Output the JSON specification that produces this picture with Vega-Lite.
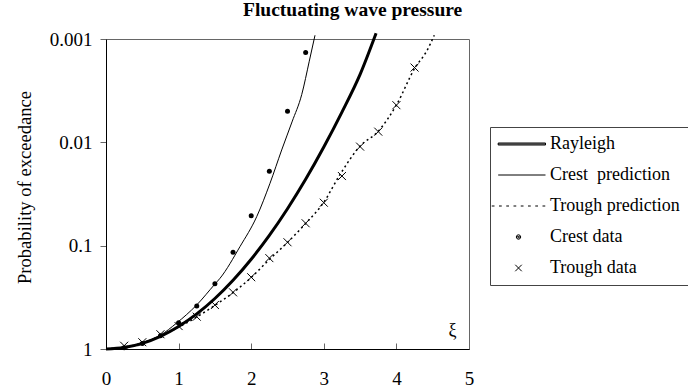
{
  "$schema": "https://vega.github.io/schema/vega-lite/v6.json",
  "width": 363,
  "height": 310,
  "autosize": {"type": "none"},
  "padding": {"left": 106, "top": 39, "right": 219, "bottom": 43},
  "background": "white",
  "title": {
    "text": "Fluctuating wave pressure",
    "anchor": "start",
    "frame": "group",
    "dx": 137,
    "offset": -8,
    "baseline": "alphabetic",
    "font": "Liberation Serif",
    "fontSize": 19.5,
    "fontWeight": "bold",
    "color": "black"
  },
  "config": {
    "font": "Liberation Serif",
    "view": {"stroke": "#666", "strokeWidth": 1}
  },
  "data": {
    "values": [
      {"series": "Rayleigh", "xi": 0, "p": 1},
      {"series": "Rayleigh", "xi": 0.25, "p": 0.969},
      {"series": "Rayleigh", "xi": 0.5, "p": 0.8825},
      {"series": "Rayleigh", "xi": 0.75, "p": 0.7548},
      {"series": "Rayleigh", "xi": 1, "p": 0.6065},
      {"series": "Rayleigh", "xi": 1.25, "p": 0.4578},
      {"series": "Rayleigh", "xi": 1.5, "p": 0.3247},
      {"series": "Rayleigh", "xi": 1.75, "p": 0.2163},
      {"series": "Rayleigh", "xi": 2, "p": 0.1353},
      {"series": "Rayleigh", "xi": 2.25, "p": 0.0796},
      {"series": "Rayleigh", "xi": 2.5, "p": 0.0439},
      {"series": "Rayleigh", "xi": 2.75, "p": 0.0228},
      {"series": "Rayleigh", "xi": 3, "p": 0.0111},
      {"series": "Rayleigh", "xi": 3.25, "p": 0.0051},
      {"series": "Rayleigh", "xi": 3.5, "p": 0.0022},
      {"series": "Rayleigh", "xi": 3.72, "p": 0.00088},
      {"series": "Crest\u00a0 prediction", "xi": 0, "p": 1},
      {"series": "Crest\u00a0 prediction", "xi": 0.25, "p": 0.965},
      {"series": "Crest\u00a0 prediction", "xi": 0.5, "p": 0.87},
      {"series": "Crest\u00a0 prediction", "xi": 0.75, "p": 0.735},
      {"series": "Crest\u00a0 prediction", "xi": 0.974, "p": 0.56},
      {"series": "Crest\u00a0 prediction", "xi": 1.249, "p": 0.375},
      {"series": "Crest\u00a0 prediction", "xi": 1.501, "p": 0.235},
      {"series": "Crest\u00a0 prediction", "xi": 1.57, "p": 0.207},
      {"series": "Crest\u00a0 prediction", "xi": 1.846, "p": 0.102},
      {"series": "Crest\u00a0 prediction", "xi": 2.076, "p": 0.0524},
      {"series": "Crest\u00a0 prediction", "xi": 2.259, "p": 0.0249},
      {"series": "Crest\u00a0 prediction", "xi": 2.42, "p": 0.01185},
      {"series": "Crest\u00a0 prediction", "xi": 2.562, "p": 0.00635},
      {"series": "Crest\u00a0 prediction", "xi": 2.696, "p": 0.00345},
      {"series": "Crest\u00a0 prediction", "xi": 2.8, "p": 0.00164},
      {"series": "Crest\u00a0 prediction", "xi": 2.879, "p": 0.00092},
      {"series": "Trough prediction", "xi": 0, "p": 1},
      {"series": "Trough prediction", "xi": 0.25, "p": 0.955},
      {"series": "Trough prediction", "xi": 0.5, "p": 0.88},
      {"series": "Trough prediction", "xi": 0.75, "p": 0.745},
      {"series": "Trough prediction", "xi": 1, "p": 0.615},
      {"series": "Trough prediction", "xi": 1.25, "p": 0.49},
      {"series": "Trough prediction", "xi": 1.5, "p": 0.378},
      {"series": "Trough prediction", "xi": 1.75, "p": 0.285},
      {"series": "Trough prediction", "xi": 2, "p": 0.203},
      {"series": "Trough prediction", "xi": 2.25, "p": 0.136},
      {"series": "Trough prediction", "xi": 2.5, "p": 0.093},
      {"series": "Trough prediction", "xi": 2.75, "p": 0.061},
      {"series": "Trough prediction", "xi": 3, "p": 0.038},
      {"series": "Trough prediction", "xi": 3.223, "p": 0.0205},
      {"series": "Trough prediction", "xi": 3.499, "p": 0.0109},
      {"series": "Trough prediction", "xi": 3.751, "p": 0.0078},
      {"series": "Trough prediction", "xi": 4.004, "p": 0.0043},
      {"series": "Trough prediction", "xi": 4.256, "p": 0.0019},
      {"series": "Trough prediction", "xi": 4.417, "p": 0.00131},
      {"series": "Trough prediction", "xi": 4.522, "p": 0.00092},
      {"series": "Crest data", "xi": 0.25, "p": 0.97},
      {"series": "Crest data", "xi": 0.5, "p": 0.885},
      {"series": "Crest data", "xi": 0.75, "p": 0.745},
      {"series": "Crest data", "xi": 1, "p": 0.556},
      {"series": "Crest data", "xi": 1.25, "p": 0.384},
      {"series": "Crest data", "xi": 1.5, "p": 0.233},
      {"series": "Crest data", "xi": 1.75, "p": 0.116},
      {"series": "Crest data", "xi": 2, "p": 0.0513},
      {"series": "Crest data", "xi": 2.25, "p": 0.019},
      {"series": "Crest data", "xi": 2.5, "p": 0.005},
      {"series": "Crest data", "xi": 2.75, "p": 0.00135},
      {"series": "Trough data", "xi": 0.25, "p": 0.93},
      {"series": "Trough data", "xi": 0.5, "p": 0.86},
      {"series": "Trough data", "xi": 0.75, "p": 0.72},
      {"series": "Trough data", "xi": 1, "p": 0.6},
      {"series": "Trough data", "xi": 1.25, "p": 0.487},
      {"series": "Trough data", "xi": 1.5, "p": 0.375},
      {"series": "Trough data", "xi": 1.75, "p": 0.283},
      {"series": "Trough data", "xi": 2, "p": 0.202},
      {"series": "Trough data", "xi": 2.25, "p": 0.132},
      {"series": "Trough data", "xi": 2.5, "p": 0.0927},
      {"series": "Trough data", "xi": 2.75, "p": 0.0607},
      {"series": "Trough data", "xi": 3, "p": 0.0384},
      {"series": "Trough data", "xi": 3.25, "p": 0.0212},
      {"series": "Trough data", "xi": 3.5, "p": 0.011},
      {"series": "Trough data", "xi": 3.75, "p": 0.00788},
      {"series": "Trough data", "xi": 4, "p": 0.00437},
      {"series": "Trough data", "xi": 4.25, "p": 0.00189}
    ]
  },
  "encoding": {
    "x": {
      "field": "xi",
      "type": "quantitative",
      "scale": {"domain": [0, 5], "nice": false, "zero": false},
      "axis": {
        "values": [0, 1, 2, 3, 4, 5],
        "grid": false,
        "title": "ξ",
        "titleX": 346,
        "titleY": -19,
        "titleAlign": "center",
        "titleBaseline": "middle",
        "titleFont": "Liberation Serif",
        "titleFontSize": 18,
        "titleFontWeight": "normal",
        "titleColor": "black",
        "tickSize": -6,
        "tickColor": "#666",
        "domainColor": "black",
        "labelFont": "Liberation Serif",
        "labelFontSize": 19,
        "labelColor": "black",
        "labelPadding": 26,
        "labelFlush": false
      }
    },
    "y": {
      "field": "p",
      "type": "quantitative",
      "scale": {"type": "log", "domain": [0.001, 1], "reverse": true},
      "axis": {
        "values": [0.001, 0.01, 0.1, 1],
        "format": "~g",
        "grid": false,
        "title": "Probability of exceedance",
        "titleX": -82,
        "titleY": 148,
        "titleAngle": -90,
        "titleAlign": "center",
        "titleBaseline": "middle",
        "titleFont": "Liberation Serif",
        "titleFontSize": 18.6,
        "titleFontWeight": "normal",
        "titleColor": "black",
        "tickSize": 6,
        "tickColor": "#666",
        "domainColor": "black",
        "labelFont": "Liberation Serif",
        "labelFontSize": 19,
        "labelColor": "black",
        "labelPadding": 8,
        "labelFlush": false
      }
    }
  },
  "layer": [
    {
      "mark": {"type": "point", "filled": false, "color": "black", "stroke": "black", "strokeWidth": 1, "opacity": 0, "size": 100, "clip": false},
      "encoding": {
        "shape": {
          "field": "series",
          "type": "nominal",
          "scale": {
            "domain": ["Rayleigh", "Crest\u00a0 prediction", "Trough prediction", "Crest data", "Trough data"],
            "range": [
              "M-1.76,-0.2H7.7V0.2H-1.76ZM-1.76,0H7.7",
              "M-1.76,0H7.7",
              "M-3.05,0h0.55M-1.6,0h0.55M-0.15,0h0.55M1.3,0h0.55M2.75,0h0.55M4.2,0h0.55M5.65,0h0.55M7.1,0h0.55",
              "M2.75,0L2.62,0.32L2.3,0.45L1.98,0.32L1.85,0L1.98,-0.32L2.3,-0.45L2.62,-0.32ZM2.52,0L2.3,0.22L2.08,0L2.3,-0.22ZM2.3,-0.1V0.1",
              "M1.65,-0.65L2.95,0.65M1.65,0.65L2.95,-0.65"
            ]
          },
          "legend": {
            "orient": "none",
            "legendX": 384,
            "legendY": 88,
            "title": null,
            "padding": 8,
            "strokeColor": "#444",
            "fillColor": "white",
            "symbolSize": 100,
            "symbolFillColor": "black",
            "symbolStrokeColor": "black",
            "symbolStrokeWidth": 1,
            "symbolOpacity": 1,
            "labelFont": "Liberation Serif",
            "labelFontSize": 18,
            "labelColor": "black",
            "labelOffset": 34,
            "rowPadding": 13,
            "labelLimit": 400
          }
        }
      }
    },
    {
      "transform": [{"filter": {"field": "series", "equal": "Rayleigh"}}],
      "mark": {"type": "line", "color": "black", "strokeWidth": 3, "interpolate": "monotone", "clip": false}
    },
    {
      "transform": [{"filter": {"field": "series", "equal": "Crest\u00a0 prediction"}}],
      "mark": {"type": "line", "color": "black", "strokeWidth": 1, "interpolate": "monotone", "clip": false}
    },
    {
      "transform": [{"filter": {"field": "series", "equal": "Trough prediction"}}],
      "mark": {"type": "line", "color": "black", "strokeWidth": 1.5, "strokeDash": [2, 3], "interpolate": "monotone", "clip": false}
    },
    {
      "transform": [{"filter": {"field": "series", "equal": "Crest data"}}],
      "mark": {"type": "point", "shape": "circle", "filled": true, "size": 25, "color": "black", "opacity": 1, "clip": false}
    },
    {
      "transform": [{"filter": {"field": "series", "equal": "Trough data"}}],
      "mark": {"type": "point", "shape": "M-1,-1L1,1M-1,1L1,-1", "filled": false, "size": 64, "color": "black", "strokeWidth": 1, "opacity": 1, "clip": false}
    }
  ]
}
